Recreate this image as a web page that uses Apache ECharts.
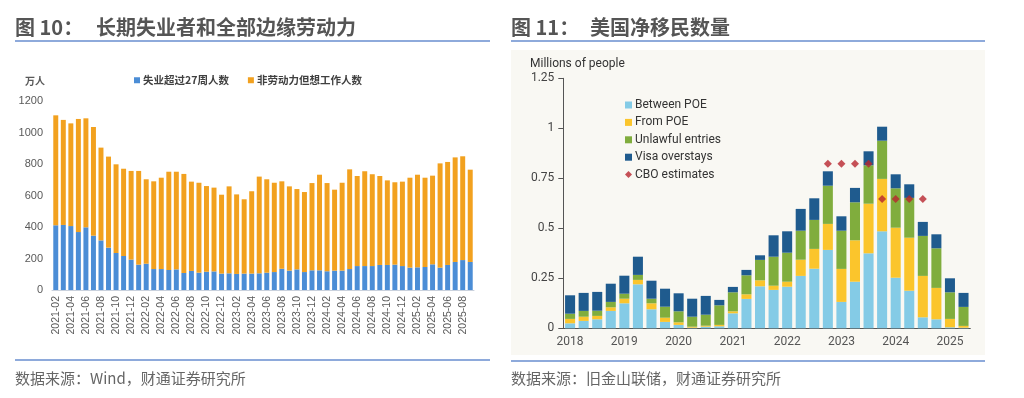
<!DOCTYPE html>
<html>
<head>
<meta charset="utf-8">
<script src="https://cdn.jsdelivr.net/npm/echarts@6/dist/echarts.min.js"></script>
<style>
  html, body { margin: 0; padding: 0; background: #fff; }
  #chart { width: 1024px; height: 398px; }
</style>
</head>
<body>
<div id="chart"></div>
<script>
// 图10 月度：2021-02 至 2025-09
var months = [];
for (var y = 2021; y <= 2025; y++) {
  for (var m = 1; m <= 12; m++) {
    if ((y === 2021 && m < 2) || (y === 2025 && m > 9)) continue;
    months.push(y + '-' + (m < 10 ? '0' + m : m));
  }
}
// 失业超过27周人数（万人）
var longUnemp = [411, 413, 406, 368, 398, 345, 315, 269, 235, 216,
  193, 161, 167, 133, 133, 127, 131, 108, 121, 110,
  116, 118, 104, 106, 102, 104, 104, 106, 110, 114,
  135, 123, 131, 114, 125, 125, 119, 123, 123, 133,
  152, 152, 152, 159, 159, 161, 152, 142, 144, 146,
  163, 142, 159, 178, 190, 178];
// 非劳动力但想工作人数（万人）
var wantJob = [698, 667, 652, 718, 692, 690, 589, 578, 563, 554,
  563, 595, 536, 557, 580, 624, 620, 629, 567, 571,
  544, 532, 501, 552, 505, 472, 523, 614, 593, 567,
  555, 535, 510, 508, 554, 607, 560, 514, 558, 633,
  572, 602, 583, 565, 537, 523, 536, 571, 588, 567,
  563, 662, 654, 664, 659, 586];
var leftTicks = [0, 200, 400, 600, 800, 1000, 1200];

// 图11 季度：2018Q1 至 2025Q2（百万人）
var quarters = [];
for (var yy = 2018; yy <= 2025; yy++) {
  for (var q = 1; q <= 4; q++) {
    if (yy === 2025 && q > 2) continue;
    quarters.push(yy + 'Q' + q);
  }
}
var betweenPOE = [0.025, 0.037, 0.045, 0.087, 0.125, 0.220, 0.095, 0.032, 0.017, 0.003,
  0.008, 0.010, 0.075, 0.147, 0.210, 0.192, 0.208, 0.262, 0.298, 0.392,
  0.132, 0.233, 0.375, 0.485, 0.253, 0.188, 0.055, 0.045, 0.005, 0.003];
var fromPOE = [0.022, 0.021, 0.017, 0.018, 0.023, 0.022, 0.030, 0.021, 0.013, 0.005,
  0.005, 0.007, 0.010, 0.023, 0.030, 0.021, 0.025, 0.081, 0.099, 0.130,
  0.165, 0.207, 0.248, 0.262, 0.250, 0.265, 0.207, 0.157, 0.042, 0.009];
var unlawful = [0.026, 0.029, 0.026, 0.027, 0.025, 0.025, 0.023, 0.055, 0.055, 0.050,
  0.055, 0.098, 0.095, 0.095, 0.102, 0.145, 0.145, 0.145, 0.145, 0.191,
  0.191, 0.190, 0.192, 0.191, 0.197, 0.199, 0.200, 0.198, 0.133, 0.095];
var visaOver = [0.092, 0.090, 0.094, 0.091, 0.090, 0.091, 0.090, 0.090, 0.090, 0.090,
  0.094, 0.027, 0.027, 0.027, 0.023, 0.107, 0.107, 0.109, 0.108, 0.072,
  0.072, 0.072, 0.070, 0.070, 0.070, 0.068, 0.070, 0.070, 0.070, 0.070];
var cboEst = [null, null, null, null, null, null, null, null, null, null,
  null, null, null, null, null, null, null, null, null, 0.823,
  0.823, 0.823, 0.823, 0.647, 0.647, 0.647, 0.647, null, null, null];

var chart = echarts.init(document.getElementById('chart'));

var cnFont = '"Noto Sans CJK SC", sans-serif';
var titleGray = '#555';

chart.setOption({
  animation: false,
  backgroundColor: '#fff',
  graphic: [
    // 右图米色底
    { type: 'rect', z: -10, shape: { x: 511, y: 50, width: 474, height: 305 }, style: { fill: '#f9f8f3' } },
    // 标题
    { type: 'text', x: 15, y: 27, style: { text: '图 10：', font: 'bold 20px ' + cnFont, fill: titleGray, verticalAlign: 'middle' } },
    { type: 'text', x: 96, y: 27, style: { text: '长期失业者和全部边缘劳动力', font: 'bold 20px ' + cnFont, fill: titleGray, verticalAlign: 'middle' } },
    { type: 'text', x: 511, y: 27, style: { text: '图 11：', font: 'bold 20px ' + cnFont, fill: titleGray, verticalAlign: 'middle' } },
    { type: 'text', x: 590, y: 27, style: { text: '美国净移民数量', font: 'bold 20px ' + cnFont, fill: titleGray, verticalAlign: 'middle' } },
    // 标题下划线
    { type: 'line', shape: { x1: 15, y1: 41, x2: 490, y2: 41 }, style: { stroke: '#8eaadb', lineWidth: 2 } },
    { type: 'line', shape: { x1: 511, y1: 41, x2: 985, y2: 41 }, style: { stroke: '#8eaadb', lineWidth: 2 } },
    // 底部线
    { type: 'line', shape: { x1: 15, y1: 360, x2: 490, y2: 360 }, style: { stroke: '#8eaadb', lineWidth: 2 } },
    { type: 'line', shape: { x1: 511, y1: 361, x2: 985, y2: 361 }, style: { stroke: '#8eaadb', lineWidth: 2 } },
    // 数据来源
    { type: 'text', x: 15, y: 378, style: { text: '数据来源：Wind，财通证券研究所', font: '15px ' + cnFont, fill: '#666', verticalAlign: 'middle' } },
    { type: 'text', x: 511, y: 378, style: { text: '数据来源：旧金山联储，财通证券研究所', font: '15px ' + cnFont, fill: '#666', verticalAlign: 'middle' } },
    // 单位
    { type: 'text', x: 25, y: 81, style: { text: '万人', font: 'bold 10px ' + cnFont, fill: '#595959', verticalAlign: 'middle' } },
    { type: 'text', x: 530, y: 64, style: { text: 'Millions of people', font: '12px Roboto', fill: '#333', verticalAlign: 'middle' } }
  ],
  legend: [
    {
      left: 129, top: 70, itemWidth: 6, itemHeight: 6, itemGap: 19,
      icon: 'rect',
      textStyle: { fontFamily: cnFont, fontSize: 10.5, fontWeight: 'bold', color: '#404040', padding: [0, 0, 0, -2] },
      data: ['失业超过27周人数', '非劳动力但想工作人数']
    },
    {
      orient: 'vertical', left: 620, top: 93, itemWidth: 7, itemHeight: 7, itemGap: 3.4,
      textStyle: { fontFamily: 'Roboto', fontSize: 12, color: '#333', lineHeight: 14, padding: [0, 0, 0, -2] },
      data: [
        { name: 'Between POE', icon: 'rect' },
        { name: 'From POE', icon: 'rect' },
        { name: 'Unlawful entries', icon: 'rect' },
        { name: 'Visa overstays', icon: 'rect' },
        { name: 'CBO estimates', icon: 'diamond' }
      ]
    }
  ],
  grid: [
    { left: 52, top: 101, width: 422, height: 189 },
    { left: 563.3, top: 78.3, width: 407, height: 250 }
  ],
  xAxis: [
    {
      type: 'category', gridIndex: 0, data: months,
      axisLine: { lineStyle: { color: '#c9d1dd' } },
      axisTick: { show: false },
      axisLabel: { interval: 1, rotate: 90, fontSize: 10.5, fontFamily: 'Liberation Sans', color: '#595959', margin: 6 }
    },
    {
      type: 'category', gridIndex: 1, data: quarters,
      axisLine: { lineStyle: { color: '#555' } },
      axisTick: { interval: 3, length: 4, lineStyle: { color: '#555' } },
      axisLabel: {
        interval: 3, fontSize: 12, fontFamily: 'Roboto', color: '#555', margin: 8,
        formatter: function (v) { return v.slice(0, 4); }
      }
    }
  ],
  yAxis: [
    {
      type: 'value', gridIndex: 0, min: leftTicks[0], max: leftTicks[leftTicks.length - 1], interval: 200,
      axisLine: { show: false }, axisTick: { show: false }, splitLine: { show: false },
      axisLabel: { fontSize: 11, fontFamily: 'Liberation Sans', color: '#595959', margin: 9,
        formatter: function (v) { return String(v); } }
    },
    {
      type: 'value', gridIndex: 1, min: 0, max: 1.25, interval: 0.25,
      axisLine: { show: true, lineStyle: { color: '#555' } },
      axisTick: { show: true, length: 5, lineStyle: { color: '#555' } },
      splitLine: { show: false },
      axisLabel: { fontSize: 12, fontFamily: 'Roboto', color: '#444', margin: 9 }
    }
  ],
  series: [
    { name: '失业超过27周人数', type: 'bar', stack: 'a', xAxisIndex: 0, yAxisIndex: 0, barCategoryGap: '34%', data: longUnemp, itemStyle: { color: '#4b8dd6' } },
    { name: '非劳动力但想工作人数', type: 'bar', stack: 'a', xAxisIndex: 0, yAxisIndex: 0, data: wantJob, itemStyle: { color: '#f2a11f' } },
    { name: 'Between POE', type: 'bar', stack: 'b', xAxisIndex: 1, yAxisIndex: 1, barCategoryGap: '26%', data: betweenPOE, itemStyle: { color: '#84cbe6' } },
    { name: 'From POE', type: 'bar', stack: 'b', xAxisIndex: 1, yAxisIndex: 1, data: fromPOE, itemStyle: { color: '#fbc52c' } },
    { name: 'Unlawful entries', type: 'bar', stack: 'b', xAxisIndex: 1, yAxisIndex: 1, data: unlawful, itemStyle: { color: '#80ad3d' } },
    { name: 'Visa overstays', type: 'bar', stack: 'b', xAxisIndex: 1, yAxisIndex: 1, data: visaOver, itemStyle: { color: '#1f5b8e' } },
    { name: 'CBO estimates', type: 'scatter', xAxisIndex: 1, yAxisIndex: 1, symbol: 'diamond', symbolSize: 8, data: cboEst, itemStyle: { color: '#b8262e' }, z: 5 }
  ]
});
</script>
</body>
</html>
